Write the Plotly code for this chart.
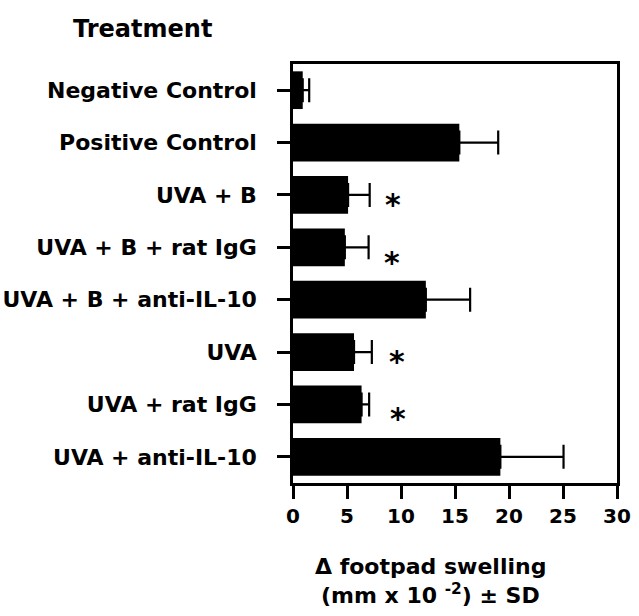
import plotly.graph_objects as go

# ---- data ----
treatments = [
    "Negative Control",
    "Positive Control",
    "UVA + B",
    "UVA + B + rat IgG",
    "UVA + B + anti-IL-10",
    "UVA",
    "UVA + rat IgG",
    "UVA + anti-IL-10",
]
swelling = [0.9, 15.4, 5.1, 4.8, 12.3, 5.65, 6.35, 19.2]
sd = [0.6, 3.6, 2.0, 2.2, 4.1, 1.65, 0.7, 5.85]
significant = [False, False, True, True, False, True, True, False]
x_ticks = [0, 5, 10, 15, 20, 25, 30]

FONT = "DejaVu Sans"

fig = go.Figure()
fig.add_trace(go.Bar(
    y=treatments,
    x=swelling,
    orientation="h",
    marker=dict(color="black", line=dict(width=0)),
    error_x=dict(type="data", array=sd, visible=True, color="black",
                 thickness=2.2, width=12, symmetric=False, arrayminus=[0] * len(sd)),
    width=0.72,
    showlegend=False,
))

# significance asterisks
star_x = {2: 9.25, 3: 9.2, 5: 9.6, 6: 9.7}
star_dy = {2: -3, 3: -8, 5: -2, 6: -7}
for i, (t, sig) in enumerate(zip(treatments, significant)):
    if sig:
        fig.add_annotation(
            x=star_x[i], y=t, xref="x", yref="y",
            text="<b>*</b>", showarrow=False,
            font=dict(family=FONT, size=30, color="black"),
            xanchor="center", yanchor="middle",
            yshift=star_dy[i] - 7,
        )

fig.add_annotation(
    x=-0.686, y=1.084, xref="paper", yref="paper",
    text="<b>Treatment</b>", showarrow=False,
    font=dict(family=FONT, size=24, color="black"),
    xanchor="left", yanchor="middle",
)
fig.add_annotation(
    x=0.424, y=-0.199, xref="paper", yref="paper",
    text="<b>Δ footpad swelling</b>", showarrow=False,
    font=dict(family=FONT, size=22, color="black"),
    xanchor="center", yanchor="middle",
)
fig.add_annotation(
    x=0.424, y=-0.266, xref="paper", yref="paper",
    text="<b>(mm x 10 <sup>-2</sup>) ± SD</b>", showarrow=False,
    font=dict(family=FONT, size=22, color="black"),
    xanchor="center", yanchor="middle",
)

fig.update_layout(
    width=639, height=616,
    margin=dict(l=293, r=22, t=64, b=133),
    paper_bgcolor="white", plot_bgcolor="white",
    font=dict(family=FONT, color="black"),
    xaxis=dict(
        range=[0, 30], tickvals=x_ticks,
        ticktext=[f"<b>{v}</b>" for v in x_ticks],
        ticks="outside", ticklen=13, tickwidth=2.5, tickcolor="black",
        showline=True, linewidth=2.5, linecolor="black", mirror=True,
        showgrid=False, zeroline=False, automargin=False,
        tickfont=dict(family=FONT, size=20, color="black"),
    ),
    yaxis=dict(
        autorange="reversed",
        tickvals=treatments,
        ticktext=[f"<b>{t}</b>" for t in treatments],
        ticks="outside", ticklen=13, tickwidth=2.5, tickcolor="black",
        showline=True, linewidth=2.5, linecolor="black", mirror=True,
        showgrid=False, zeroline=False, automargin=False,
        ticklabelstandoff=16,
        tickfont=dict(family=FONT, size=22, color="black"),
    ),
)

fig.write_html(
    "out.html",
    config={"displayModeBar": False},
    post_script="document.body.style.margin='0';document.body.style.padding='0';",
)
